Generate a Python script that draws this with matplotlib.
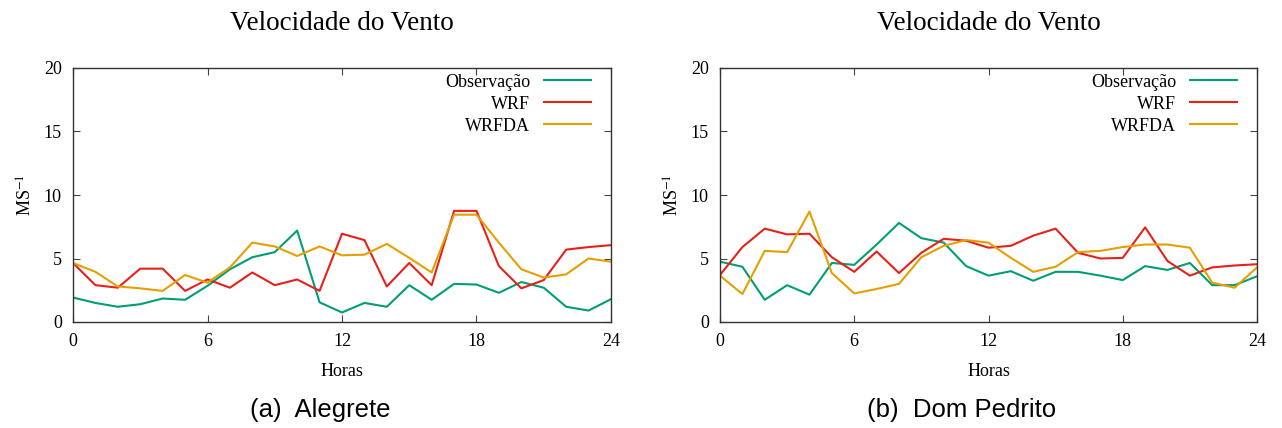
import matplotlib
matplotlib.use("Agg")
import matplotlib.pyplot as plt
import numpy as np

# wind speed (m/s) per hour, 0..24
horas = np.arange(0, 25)

obs_alegrete = [1.93, 1.5, 1.2, 1.4, 1.85, 1.75, 2.85, 4.15, 5.1, 5.5, 7.2, 1.55, 0.75,
                1.5, 1.2, 2.9, 1.75, 3.0, 2.95, 2.3, 3.15, 2.7, 1.2, 0.9, 1.8]
wrf_alegrete = [4.65, 2.9, 2.7, 4.2, 4.2, 2.45, 3.35, 2.7, 3.9, 2.9, 3.35, 2.45, 6.95,
                6.45, 2.8, 4.65, 2.9, 8.75, 8.75, 4.4, 2.65, 3.3, 5.7, 5.9, 6.05]
wrfda_alegrete = [4.65, 3.95, 2.8, 2.65, 2.45, 3.7, 3.1, 4.3, 6.25, 5.95, 5.2, 5.95, 5.25,
                  5.3, 6.15, 5.05, 3.9, 8.45, 8.45, 6.25, 4.15, 3.5, 3.75, 5.0, 4.75]

obs_dompedrito = [4.75, 4.35, 1.75, 2.9, 2.15, 4.65, 4.5, 6.1, 7.8, 6.6, 6.25, 4.4, 3.65,
                  4.0, 3.25, 3.95, 3.95, 3.65, 3.3, 4.4, 4.1, 4.65, 2.9, 2.9, 3.6]
wrf_dompedrito = [3.7, 5.9, 7.35, 6.9, 6.95, 5.1, 3.95, 5.55, 3.85, 5.45, 6.55, 6.4, 5.85,
                  6.0, 6.8, 7.35, 5.45, 5.0, 5.05, 7.45, 4.8, 3.65, 4.3, 4.45, 4.55]
wrfda_dompedrito = [3.65, 2.2, 5.6, 5.5, 8.7, 3.85, 2.25, 2.6, 3.0, 5.1, 6.0, 6.45, 6.25,
                    5.05, 3.95, 4.35, 5.5, 5.6, 5.9, 6.1, 6.1, 5.85, 3.1, 2.7, 4.3]

series_labels = ["Observação", "WRF", "WRFDA"]
cores = ["#009e73", "#e8201a", "#e69f00"]
legendas = ["(a)  Alegrete", "(b)  Dom Pedrito"]

plt.rcParams["font.family"] = ["Liberation Serif", "DejaVu Serif"]
plt.rcParams["mathtext.fontset"] = "stix"

fig = plt.figure(figsize=(12.82, 4.28), dpi=100)
W, H = 1282.0, 428.0

paineis = [
    (73, 611, (obs_alegrete, wrf_alegrete, wrfda_alegrete), 320),
    (720, 1257, (obs_dompedrito, wrf_dompedrito, wrfda_dompedrito), 962),
]

for (x0, x1, dados, cx), legenda in zip(paineis, legendas):
    ax = fig.add_axes([x0 / W, 1 - 322 / H, (x1 - x0) / W, (322 - 68) / H])
    for valores, nome, cor in zip(dados, series_labels, cores):
        ax.plot(horas, valores, color=cor, lw=1.5, label=nome)
    ax.set_xlim(0, 24)
    ax.set_ylim(0, 20)
    ax.set_xticks([0, 6, 12, 18, 24])
    ax.set_yticks([0, 5, 10, 15, 20])
    ax.tick_params(direction="in", top=True, right=True, length=5, width=0.8,
                   labelsize=13, color="#444444")
    ax.tick_params(axis="x", pad=8)
    ax.tick_params(axis="y", pad=8)
    for s in ax.spines.values():
        s.set_linewidth(1.0)
        s.set_color("#333333")
    ax.set_title("Velocidade do Vento", fontsize=19.5, pad=27)
    ax.set_xlabel("Horas", fontsize=13, labelpad=9)
    ax.set_ylabel(r"MS$^{-1}$", fontsize=13, labelpad=6)
    ax.legend(loc="upper right", bbox_to_anchor=(0.962, 0.978), frameon=False,
              markerfirst=False, fontsize=13, handlelength=2.6, handletextpad=0.75,
              labelspacing=0.28, borderaxespad=0, borderpad=0)
    fig.text(cx / W, 1 - 410 / H, legenda, ha="center", va="center",
             fontsize=18.5, family=["Liberation Sans", "DejaVu Sans"])

fig.savefig("out.png", dpi=100)
